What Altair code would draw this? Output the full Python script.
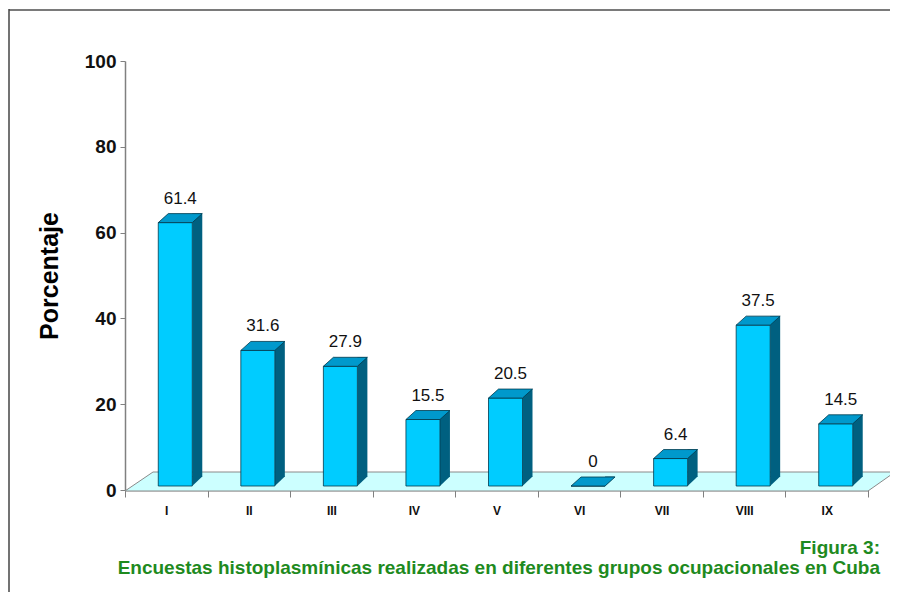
import altair as alt
import pandas as pd

categories = ["I", "II", "III", "IV", "V", "VI", "VII", "VIII", "IX"]
values = [61.4, 31.6, 27.9, 15.5, 20.5, 0, 6.4, 37.5, 14.5]
y_ticks = [0, 20, 40, 60, 80, 100]
y_title = "Porcentaje"
caption_title = ["Figura 3:"]
caption_text = ["Encuestas histoplasmínicas realizadas en diferentes grupos ocupacionales en Cuba"]

df = pd.DataFrame({"cat": categories, "val": values, "zero": [0] * len(values)})

FRONT = "#00ccff"
TOP = "#0099cc"
SIDE = "#006080"
EDGE = "#003a4c"
FLOOR = "#ccffff"
FONT = "Liberation Sans"

x_enc = alt.X("cat:N", sort=categories,
              scale=alt.Scale(paddingInner=0, paddingOuter=0),
              axis=alt.Axis(title=None, labelAngle=0, tickBand="extent",
                            labelFont=FONT, labelFontSize=12, labelFontWeight="bold",
                            labelColor="#111111", labelPadding=8, tickSize=7,
                            tickColor="#808080", domainColor="#808080", domainWidth=1.5,
                            grid=False))
y_scale = alt.Scale(domain=[0, 100], nice=False)
y_enc = alt.Y("val:Q", scale=y_scale,
              axis=alt.Axis(title=y_title, values=y_ticks, grid=False,
                            labelFont=FONT, labelFontSize=19, labelFontWeight="bold",
                            labelColor="#111111", labelPadding=4, tickSize=5,
                            tickColor="#808080", domainColor="#808080", domainWidth=1.5,
                            titleFont=FONT, titleFontSize=25, titleFontWeight="bold",
                            titleColor="#000000", titlePadding=22))

base = alt.Chart(df)
one = pd.DataFrame({"a": [0]})

# frame lines (decoration)
frame_top = alt.Chart(one).mark_rule(color="#7a7a7a", strokeWidth=2).encode(
    x=alt.value(-116), x2=alt.value(780), y=alt.value(-51))
frame_left = alt.Chart(one).mark_rule(color="#444444", strokeWidth=1.5).encode(
    x=alt.value(-116), y=alt.value(-52), y2=alt.value(540))

floor = alt.Chart(one).mark_point(
    shape="M0,1 L743,1 L770,-18 L28,-18 Z", size=4, filled=True, opacity=1,
    fill=FLOOR, stroke="#8a8a8a", strokeWidth=1).encode(
    x=alt.value(0), y=alt.datum(0, scale=y_scale))

side = base.mark_bar(width=10, xOffset=31, yOffset=-13, y2Offset=-13,
                     color=SIDE, opacity=1).encode(
    x=x_enc, y=y_enc, y2="zero:Q")

side_foot = base.mark_point(shape="M26,-13.5 L26,-4 L36,-13.5 Z", size=4, filled=True,
                            opacity=1, fill=SIDE, strokeWidth=0).encode(
    x=x_enc, y=alt.Y("zero:Q", scale=y_scale))

front = base.mark_bar(width=34, xOffset=9, yOffset=-4, y2Offset=-4, color=FRONT,
                      stroke=EDGE, strokeWidth=0.8, opacity=1).encode(
    x=x_enc, y=y_enc, y2="zero:Q")

top = base.mark_point(shape="M-8,-4 L26,-4 L36,-13 L2,-13 Z", size=4, filled=True,
                      opacity=1, fill=TOP, stroke=EDGE, strokeWidth=0.8).encode(
    x=x_enc, y=alt.Y("val:Q", scale=y_scale))

labels = base.mark_text(font=FONT, fontSize=17, color="#111111", dx=14, dy=-28,
                        baseline="middle").encode(
    x=x_enc, y=alt.Y("val:Q", scale=y_scale), text=alt.Text("val:Q", format="~g"))

cap_style = dict(font=FONT, fontSize=19, fontWeight="bold", color="#1e8a1e",
                 align="right", baseline="middle")
cap1 = alt.Chart(pd.DataFrame({"line": caption_title})).mark_text(**cap_style).encode(
    x=alt.value(755), y=alt.value(487), text="line:N")
cap2 = alt.Chart(pd.DataFrame({"line": caption_text})).mark_text(**cap_style).encode(
    x=alt.value(755), y=alt.value(507), text="line:N")

chart = alt.layer(frame_top, frame_left, floor, side, side_foot, front, top, labels,
                  cap1, cap2).properties(
    width=743, height=429,
    padding={"left": 117, "top": 53, "right": 22, "bottom": 102},
    autosize="none",
    background="white",
).configure_view(strokeWidth=0)

chart.save("out.html", embed_options={"renderer": "svg", "actions": False})
